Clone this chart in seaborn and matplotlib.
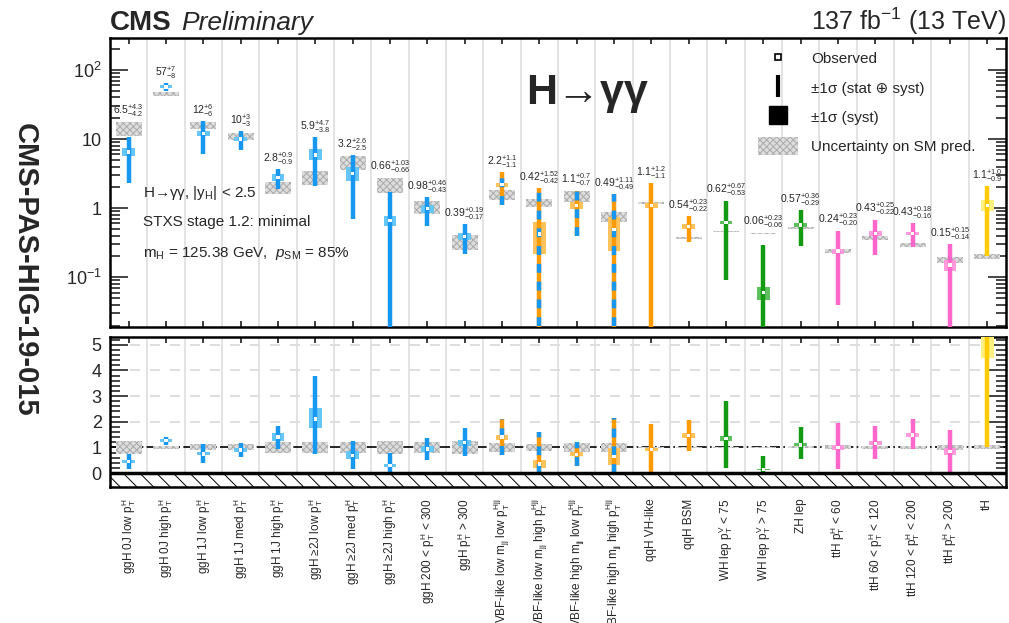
import numpy as np
import pandas as pd
import matplotlib
matplotlib.use("Agg")
import matplotlib.pyplot as plt
import seaborn as sns
from matplotlib.patches import Patch
from matplotlib.lines import Line2D
from matplotlib.ticker import FixedLocator, LogLocator, MultipleLocator, NullFormatter

sns.set_theme(style="ticks")
plt.rcParams["font.family"] = ["Liberation Sans", "DejaVu Sans"]
plt.rcParams["mathtext.fontset"] = "custom"
plt.rcParams["mathtext.rm"] = "Liberation Sans"
plt.rcParams["mathtext.it"] = "Liberation Sans:italic"
plt.rcParams["mathtext.bf"] = "Liberation Sans:bold"
plt.rcParams["hatch.linewidth"] = 0.7

# STXS bins
bins = [
    r"ggH 0J low $\mathrm{p_T^H}$",
    r"ggH 0J high $\mathrm{p_T^H}$",
    r"ggH 1J low $\mathrm{p_T^H}$",
    r"ggH 1J med $\mathrm{p_T^H}$",
    r"ggH 1J high $\mathrm{p_T^H}$",
    r"ggH ≥2J low $\mathrm{p_T^H}$",
    r"ggH ≥2J med $\mathrm{p_T^H}$",
    r"ggH ≥2J high $\mathrm{p_T^H}$",
    r"ggH 200 < $\mathrm{p_T^H}$ < 300",
    r"ggH $\mathrm{p_T^H}$ > 300",
    r"VBF-like low $\mathrm{m_{jj}}$ low $\mathrm{p_T^{Hjj}}$",
    r"VBF-like low $\mathrm{m_{jj}}$ high $\mathrm{p_T^{Hjj}}$",
    r"VBF-like high $\mathrm{m_{jj}}$ low $\mathrm{p_T^{Hjj}}$",
    r"VBF-like high $\mathrm{m_{jj}}$ high $\mathrm{p_T^{Hjj}}$",
    "qqH VH-like",
    "qqH BSM",
    r"WH lep $\mathrm{p_T^V}$ < 75",
    r"WH lep $\mathrm{p_T^V}$ > 75",
    "ZH lep",
    r"ttH $\mathrm{p_T^H}$ < 60",
    r"ttH 60 < $\mathrm{p_T^H}$ < 120",
    r"ttH 120 < $\mathrm{p_T^H}$ < 200",
    r"ttH $\mathrm{p_T^H}$ > 200",
    "tH",
]
group = ["ggH"] * 10 + ["VBF"] * 4 + ["qqH"] * 2 + ["VH"] * 3 + ["ttH"] * 4 + ["tH"]

# observed cross sections (fb) and total uncertainties, as printed
obs_lbl = ["6.5", "57", "12", "10", "2.8", "5.9", "3.2", "0.66", "0.98", "0.39",
           "2.2", "0.42", "1.1", "0.49", "1.1", "0.54", "0.62", "0.06", "0.57",
           "0.24", "0.43", "0.43", "0.15", "1.1"]
up_lbl = ["4.3", "7", "6", "3", "0.9", "4.7", "2.6", "1.03", "0.46", "0.19",
          "1.1", "1.52", "0.7", "1.11", "1.2", "0.23", "0.67", "0.23", "0.36",
          "0.23", "0.25", "0.18", "0.15", "1.0"]
dn_lbl = ["4.2", "8", "6", "3", "0.9", "3.8", "2.5", "0.66", "0.43", "0.17",
          "1.1", "0.42", "0.7", "0.49", "1.1", "0.22", "0.53", "0.06", "0.29",
          "0.20", "0.22", "0.16", "0.14", "0.9"]

# systematic part (estimated)
syst_up = [0.8, 3.0, 1.0, 0.7, 0.3, 1.2, 0.8, 0.12, 0.12, 0.04,
           0.15, 0.21, 0.12, 0.25, 0.08, 0.04, 0.04, 0.013, 0.03,
           0.02, 0.03, 0.025, 0.025, 0.2]
syst_dn = [0.8, 3.0, 1.0, 0.7, 0.3, 1.0, 0.7, 0.1, 0.12, 0.04,
           0.15, 0.2, 0.12, 0.25, 0.08, 0.04, 0.04, 0.013, 0.03,
           0.02, 0.03, 0.025, 0.025, 0.2]

# SM prediction (fb) and relative theory uncertainty
sm = [14.4, 45, 16, 11.1, 2.0, 2.8, 4.6, 2.2, 1.05, 0.33,
      1.57, 1.2, 1.5, 0.75, 1.2, 0.37, 0.46, 0.43, 0.52,
      0.24, 0.37, 0.29, 0.18, 0.2]
sm_unc = [0.24, 0.07, 0.12, 0.12, 0.2, 0.23, 0.23, 0.25, 0.22, 0.25,
          0.17, 0.14, 0.17, 0.17, 0.03, 0.03, 0.03, 0.03, 0.04,
          0.08, 0.07, 0.07, 0.1, 0.08]

line_col = {"ggH": "#1797f0", "VBF": "#ff9a00", "qqH": "#ff9a00",
            "VH": "#139a13", "ttH": "#ff66cc", "tH": "#ffcc00"}
box_col = {"ggH": "#66c6f7", "VBF": "#ffc35c", "qqH": "#ffc35c",
           "VH": "#5cc05c", "ttH": "#ff9bdc", "tH": "#fff080"}

obs = np.array(obs_lbl, float)
eu = np.array(up_lbl, float)
ed = np.array(dn_lbl, float)
su = np.array(syst_up)
sd = np.array(syst_dn)
smv = np.array(sm)
smu = np.array(sm_unc)
pos = np.arange(len(bins))
lc = [line_col[g] for g in group]
bc = [box_col[g] for g in group]
vbf = np.array([g == "VBF" for g in group])

df = pd.DataFrame({"pos": pos, "obs": obs, "ratio": obs / smv})

fig = plt.figure(figsize=(10.09, 6.23), dpi=100)
ax1 = fig.add_axes([0.109, 0.475, 0.888, 0.464])
ax2 = fig.add_axes([0.109, 0.218, 0.888, 0.241])

def draw_panel(ax, y, lo, hi, slo, shi, center, band, floor):
    ax.bar(pos, center * band * 2, bottom=center * (1 - band), width=0.7,
           color="#dddddd", edgecolor="#aaaaaa", hatch="xxxxx", lw=0, zorder=2)
    ax.bar(pos, shi - slo, bottom=slo, width=0.34, color=bc, lw=0, zorder=3)
    ax.vlines(pos, np.maximum(lo, floor), hi, colors=lc, lw=3.2, zorder=4)
    ax.vlines(pos[vbf], np.maximum(lo[vbf], floor), hi[vbf], colors="#1797f0",
              lw=3.2, linestyles=(0, (2, 2)), zorder=4)
    sns.scatterplot(data=df, x="pos", y=y, ax=ax, marker="s", s=6, color="white",
                    edgecolor="none", zorder=6, legend=False)
    ax.set_xlim(-0.5, len(bins) - 0.5)
    ax.set_xticks(pos)
    ax.set_xticks(pos[:-1] + 0.5, minor=True)
    ax.grid(axis="x", which="minor", color="#dedede", lw=1.2, zorder=0)
    ax.tick_params(axis="x", which="major", direction="in", length=4, top=True, bottom=True)
    ax.tick_params(axis="x", which="minor", length=0)
    ax.tick_params(axis="y", which="both", direction="in", left=True, right=True,
                   labelsize=13, width=1.2, pad=6)
    ax.tick_params(axis="y", which="major", length=13)
    ax.tick_params(axis="y", which="minor", length=7)
    for s in ax.spines.values():
        s.set_linewidth(1.8)
        s.set_color("black")
    ax.set_xlabel("")
    ax.set_ylabel("")

# top panel: cross sections
ax1.set_yscale("log")
draw_panel(ax1, "obs", obs - ed, obs + eu, obs - sd, obs + su, smv, smu, 1e-3)
ax1.set_ylim(0.019, 290)
ax1.yaxis.set_major_locator(FixedLocator([0.1, 1, 10, 100]))
ax1.set_yticklabels([r"$10^{-1}$", "1", "10", r"$10^{2}$"])
ax1.yaxis.set_minor_locator(LogLocator(base=10, subs=np.arange(2, 10)))
ax1.yaxis.set_minor_formatter(NullFormatter())
ax1.set_xticklabels([])

top = np.maximum(obs + eu, smv * (1 + smu))
for i in range(len(bins)):
    ax1.text(pos[i], top[i] * 1.08,
             r"$\mathregular{%s^{+%s}_{-%s}}$" % (obs_lbl[i], up_lbl[i], dn_lbl[i]),
             ha="center", va="bottom", fontsize=7.5, zorder=7)

ax1.text(0.532, 0.81, "H→γγ", transform=ax1.transAxes, fontsize=31,
         fontweight="bold", ha="center", va="center")
ax1.text(0.037, 0.464, r"H→γγ, |$\mathrm{y_H}$| < 2.5", transform=ax1.transAxes,
         fontsize=11, va="center")
ax1.text(0.037, 0.363, "STXS stage 1.2: minimal", transform=ax1.transAxes,
         fontsize=11, va="center")
ax1.text(0.037, 0.256, r"$\mathrm{m_H}$ = 125.38 GeV,  $\it{p}_{\mathrm{SM}}$ = 85%",
         transform=ax1.transAxes, fontsize=11, va="center")

handles = [
    Line2D([], [], marker="s", ms=5, mfc="white", mec="black", mew=1.2, ls="none"),
    Line2D([], [], marker="|", ms=16, mew=3, color="black", ls="none"),
    Line2D([], [], marker="s", ms=13, color="black", ls="none"),
    Patch(facecolor="#dddddd", edgecolor="#aaaaaa", hatch="xxxxx", lw=0),
]
labels = ["Observed", "±1σ (stat ⊕ syst)", "±1σ (syst)", "Uncertainty on SM pred."]
ax1.legend(handles, labels, loc="upper left", bbox_to_anchor=(0.723, 0.96),
           frameon=False, fontsize=11, handlelength=2.6, handleheight=1.4,
           labelspacing=0.75, handletextpad=0.9, borderpad=0, borderaxespad=0)

# bottom panel: ratio to SM
ax2.axhspan(-1, 0, facecolor="white", edgecolor="black", hatch="\\\\", lw=0, zorder=1)
ax2.axhline(0, color="black", lw=2.5, zorder=5)
for v in [2, 3, 4, 5]:
    ax2.axhline(v, color="#d8d8d8", lw=1.2, ls=(0, (6, 6)), zorder=0)
ax2.axhline(1, color="black", lw=1.2, ls=(0, (6, 2, 1, 2)), zorder=1)
draw_panel(ax2, "ratio", (obs - ed) / smv, (obs + eu) / smv, (obs - sd) / smv,
           (obs + su) / smv, np.ones_like(smv), smu, -1)
ax2.set_ylim(-0.55, 5.3)
ax2.yaxis.set_major_locator(MultipleLocator(1))
ax2.yaxis.set_minor_locator(MultipleLocator(0.2))
ax2.set_xticklabels(bins, rotation=90, fontsize=8.5, va="top", ha="center")
ax2.tick_params(axis="x", which="major", pad=8)

fig.text(0.109, 0.952, "CMS", fontsize=20, fontweight="bold", ha="left", va="baseline")
fig.text(0.180, 0.952, "Preliminary", fontsize=19, style="italic", ha="left", va="baseline")
fig.text(0.997, 0.952, r"137 fb$^{-1}$ (13 TeV)", fontsize=18, ha="right", va="baseline")
fig.text(0.025, 0.567, "CMS-PAS-HIG-19-015", fontsize=21, fontweight="bold",
         rotation=270, ha="center", va="center")

fig.savefig("out.png", dpi=100)
